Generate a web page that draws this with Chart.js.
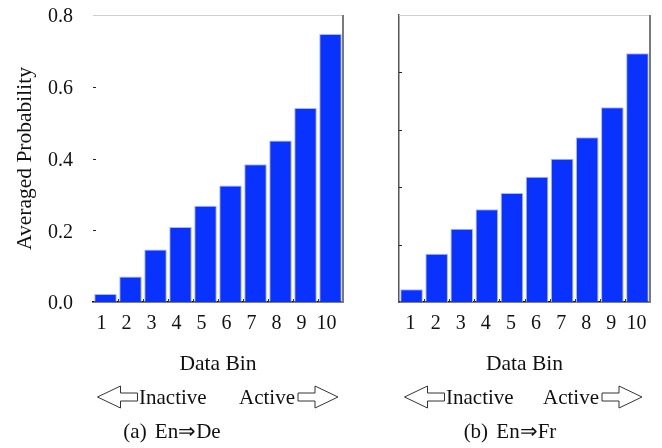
<!DOCTYPE html>
<html><head><meta charset="utf-8">
<script src="https://cdn.jsdelivr.net/npm/chart.js@4.4.1/dist/chart.umd.min.js"></script>
<style>
html,body{margin:0;padding:0;background:#fff;}
body{width:662px;height:448px;position:relative;overflow:hidden;font-family:"Liberation Serif","Times New Roman",serif;color:#111;}
.wrap{position:absolute;top:0;height:380px;}
.t{position:absolute;font-size:21px;line-height:20px;white-space:nowrap;}
.cap{position:absolute;font-size:21px;line-height:20px;white-space:nowrap;text-align:center;width:160px;word-spacing:3px;}
svg{position:absolute;left:0;top:0;}
</style></head><body>
<div class="wrap" style="left:0;width:360px"><canvas id="c1"></canvas></div>
<div class="wrap" style="left:370px;width:292px"><canvas id="c2"></canvas></div>
<svg width="662" height="448" id="arrows"></svg>
<div class="t" style="left:139px;top:387px">Inactive</div>
<div class="t" style="left:239px;top:387px">Active</div>
<div class="t" style="left:446px;top:387px">Inactive</div>
<div class="t" style="left:543px;top:387px">Active</div>
<div class="cap" style="left:92px;top:421px">(a) En⇒De</div>
<div class="cap" style="left:430px;top:421px">(b) En⇒Fr</div>
<script>
// ---- data ----
const binLabels = ['1','2','3','4','5','6','7','8','9','10'];
const enDeValues = [0.022, 0.071, 0.146, 0.209, 0.268, 0.325, 0.384, 0.450, 0.541, 0.747];
const enFrValues = [0.044, 0.168, 0.255, 0.323, 0.380, 0.436, 0.499, 0.574, 0.679, 0.867];
const yAxisTitle = 'Averaged Probability';
const xAxisTitle = 'Data Bin';

const FONT = {family:'"Liberation Serif","Times New Roman",serif', size:20};
const TFONT = {family:'"Liberation Serif","Times New Roman",serif', size:21.5};
const TXT = '#111';

const frame = {
  id:'frame',
  afterDatasetsDraw(chart){
    const {ctx, chartArea:a, scales:{x, y}} = chart;
    ctx.save();
    ctx.strokeStyle = '#cfcfcf'; ctx.lineWidth = 1;
    ctx.beginPath(); ctx.moveTo(a.left, a.top + 0.5); ctx.lineTo(a.right, a.top + 0.5); ctx.stroke();
    ctx.strokeStyle = '#7a7a7a'; ctx.lineWidth = 2;
    ctx.beginPath(); ctx.moveTo(a.right, a.top); ctx.lineTo(a.right, a.bottom); ctx.stroke();
    ctx.strokeStyle = '#222'; ctx.lineWidth = 1;
    y.ticks.forEach((t, i) => {
      if (i === 0 || i === y.ticks.length - 1) return;
      const py = Math.round(y.getPixelForValue(t.value)) + 0.5;
      ctx.beginPath(); ctx.moveTo(a.left, py); ctx.lineTo(a.left + 3, py); ctx.stroke();
    });
    ctx.strokeStyle = '#333';
    for (let i = 0; i < binLabels.length - 1; i++) {
      const px = Math.round((x.getPixelForValue(i) + x.getPixelForValue(i + 1)) / 2) + 0.5;
      ctx.beginPath(); ctx.moveTo(px, a.bottom); ctx.lineTo(px, a.bottom - 3); ctx.stroke();
    }
    ctx.restore();
  }
};

function makeChart(id, values, cfg){
  return new Chart(document.getElementById(id), {
    type:'bar',
    data:{labels:binLabels, datasets:[{data:values, backgroundColor:'rgb(10,50,255)', borderColor:'#a9b8ff', borderWidth:1, barPercentage:0.9, categoryPercentage:1}]},
    options:{
      responsive:true, maintainAspectRatio:false, animation:false,
      layout:{padding:{top:15, right:cfg.padRight, bottom:0, left:0}},
      plugins:{legend:{display:false}, tooltip:{enabled:false}},
      scales:{
        x:{
          grid:{display:false, drawTicks:false},
          border:{display:true, color:'#000', width:1.5},
          ticks:{font:FONT, color:TXT, padding:10, labelOffset:cfg.labelOffset, maxRotation:0, autoSkip:false},
          title:{display:true, text:xAxisTitle, font:TFONT, color:TXT, padding:{top:0, bottom:3}},
          afterFit(s){ s.height = 78; s.paddingLeft = 0; s.paddingRight = 0; }
        },
        y:{
          min:0, max:cfg.yMax,
          ticks:{stepSize:0.2, display:cfg.showY, font:FONT, color:TXT, padding:20, labelOffset:2, callback:v => v.toFixed(1)},
          grid:{display:false, drawTicks:false},
          border:{display:cfg.yBorder, color:'#555', width:1.5},
          title:{display:cfg.showY, text:yAxisTitle, font:TFONT, color:TXT, padding:{top:12, bottom:0}},
          afterFit(s){ s.width = cfg.yWidth; s.paddingTop = 0; s.paddingBottom = 0; }
        }
      }
    },
    plugins:[frame]
  });
}

makeChart('c1', enDeValues, {yMax:0.8, showY:true, yBorder:false, yWidth:93, padRight:17, labelOffset:-4});
makeChart('c2', enFrValues, {yMax:1.0, showY:false, yBorder:true, yWidth:29, padRight:12, labelOffset:-1});

const svg = document.getElementById('arrows');
function arrow(tipX, cy, dir){
  const d = dir;
  const hx = tipX - d*23, sx = tipX - d*40;
  const pts = [[tipX,cy],[hx,cy-11],[hx,cy-4],[sx,cy-4],[sx,cy+4],[hx,cy+4],[hx,cy+11]];
  const p = document.createElementNS('http://www.w3.org/2000/svg','polygon');
  p.setAttribute('points', pts.map(q => q.join(',')).join(' '));
  p.setAttribute('fill','#fff'); p.setAttribute('stroke','#333'); p.setAttribute('stroke-width','1');
  svg.appendChild(p);
}
arrow(97.5, 397, -1); arrow(338, 397, 1);
arrow(404.5, 397, -1); arrow(642, 397, 1);
</script>
</body></html>
